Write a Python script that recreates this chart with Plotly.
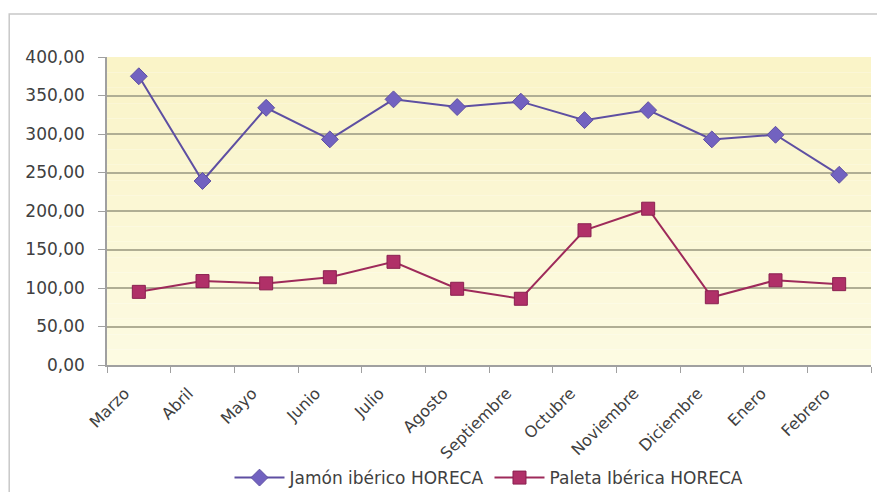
import plotly.graph_objects as go

meses = ['Marzo', 'Abril', 'Mayo', 'Junio', 'Julio', 'Agosto', 'Septiembre',
         'Octubre', 'Noviembre', 'Diciembre', 'Enero', 'Febrero']
jamon = [375, 239, 334, 293, 345, 335, 342, 318, 331, 293, 299, 247]
paleta = [95, 109, 106, 114, 134, 99, 86, 175, 203, 88, 110, 105]
y_ticks = [0, 50, 100, 150, 200, 250, 300, 350, 400]

fig = go.Figure()

fig.add_trace(go.Scatter(
    x=meses, y=jamon, name='Jamón ibérico HORECA',
    mode='lines+markers',
    line=dict(color='#5E4FA2', width=2),
    marker=dict(symbol='diamond', size=13, color='#7262C0',
                line=dict(color='#5E4FA2', width=1))
))

fig.add_trace(go.Scatter(
    x=meses, y=paleta, name='Paleta Ibérica HORECA',
    mode='lines+markers',
    line=dict(color='#9E2A5A', width=2),
    marker=dict(symbol='square', size=13, color='#B03068',
                line=dict(color='#8A2050', width=1))
))

# fondo degradado amarillo del area de trazado
shapes = []
n = 20
for i in range(n):
    t = i / (n - 1)
    r = int(253 - 3 * t)
    g = int(251 - 7 * t)
    b = int(226 - 26 * t)
    shapes.append(dict(type='rect', xref='paper', yref='paper',
                       x0=0, x1=1, y0=i / n, y1=(i + 1) / n,
                       fillcolor=f'rgb({r},{g},{b})', line_width=0, layer='below'))

# marco del grafico
shapes.append(dict(type='rect', xref='paper', yref='paper',
                   x0=-0.128, x1=1.012, y0=-0.48, y1=1.14,
                   line=dict(color='#C8C8C8', width=1.5), layer='below'))

# la pagina tiene un margen de 8px, por eso el tamaño es 877x484
fig.update_layout(
    width=877, height=484,
    margin=dict(l=99, r=14, t=49, b=127, autoexpand=False),
    paper_bgcolor='white',
    plot_bgcolor='rgba(0,0,0,0)',
    separators=',.',
    font=dict(family='DejaVu Sans', color='#404040', size=14),
    shapes=shapes,
    showlegend=True,
    legend=dict(orientation='h', x=0.5, xanchor='center', y=-0.367, yanchor='middle',
                bgcolor='rgba(0,0,0,0)',
                font=dict(size=17, color='#404040'), itemwidth=50),
    xaxis=dict(
        type='category', range=[-0.5, 11.5], tickangle=-45, tickson='boundaries',
        automargin=False, ticklabelshift=-14, ticklabelstandoff=11,
        showgrid=False, showline=True, linecolor='#A0A0A0', linewidth=1.5,
        ticks='outside', ticklen=6, tickcolor='#A0A0A0',
        tickfont=dict(size=16, color='#404040'), fixedrange=True
    ),
    yaxis=dict(
        range=[0, 400], tickvals=y_ticks, tickformat='.2f', automargin=False,
        ticklabelstandoff=10,
        showgrid=True, gridcolor='#B0AE94', gridwidth=1.5,
        showline=True, linecolor='#A0A0A0', linewidth=1.5,
        ticks='outside', ticklen=7, tickcolor='#A0A0A0',
        tickfont=dict(size=17, color='#404040'), zeroline=False
    )
)

fig.write_html("out.html")
